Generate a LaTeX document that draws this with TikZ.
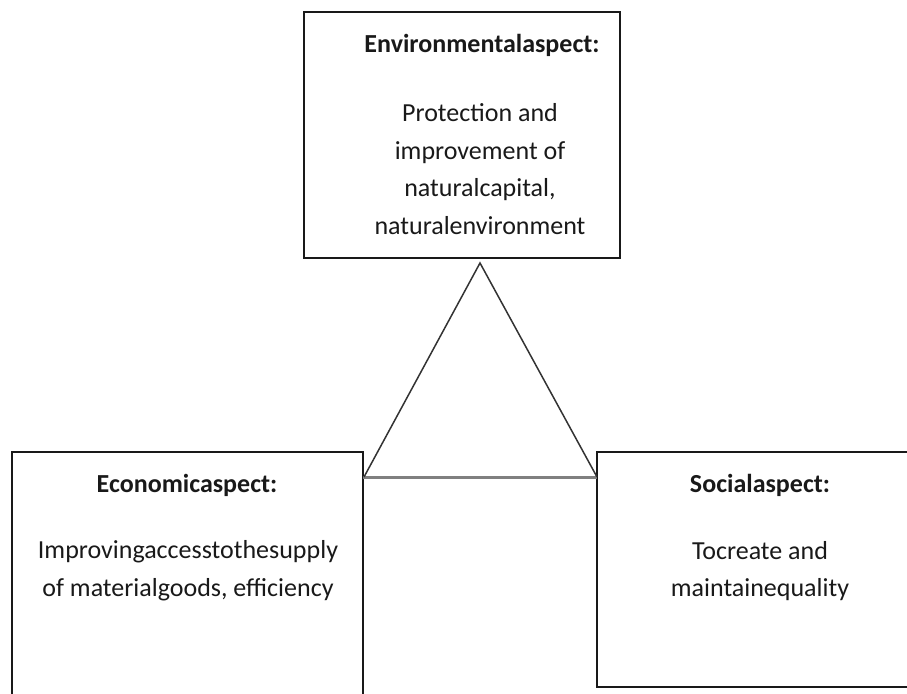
\documentclass[tikz,border=0pt]{standalone}
\usepackage{fontspec}
\setmainfont{Carlito}
\begin{document}
\begin{tikzpicture}[x=1pt,y=-1pt,
 boxx/.style={draw=black!90,line width=1.6pt,inner sep=0pt,outer sep=0pt},
 headtxt/.style={font=\fontsize{26}{37.7}\selectfont\bfseries,inner sep=0pt,text=black!90},
 bodytxt/.style={font=\fontsize{26}{37.7}\selectfont,align=center,inner sep=0pt,text=black!90},
 triside/.style={draw=black!80,line width=1.5pt},
 baseln/.style={draw=black!50,line width=3pt}]
\useasboundingbox (0,0) rectangle (907,693);
\clip (0,0) rectangle (907,693);
% boxes
\node[boxx,minimum width=316pt,minimum height=246pt] (env) at (462,135) {};
\node[boxx,minimum width=351pt,minimum height=258pt] (econ) at (187.5,581) {};
\node[boxx,minimum width=323pt,minimum height=235pt] (soc) at (758.5,569.5) {};
% texts
\node[headtxt] (envh) at (482,45) {Environmentalaspect:};
\node[bodytxt] (envb) at (480,169) {Protection and\\improvement of\\naturalcapital,\\naturalenvironment};
\node[headtxt] (econh) at (187,485) {Economicaspect:};
\node[bodytxt] (econb) at (188,571) {Improvingaccesstothesupply\\of materialgoods, efficiency};
\node[headtxt] (soch) at (760,485) {Socialaspect:};
\node[bodytxt] (socb) at (760,571) {Tocreate and\\maintainequality};
% triangle
\coordinate (apex) at (480,263);
\coordinate (bl) at (364,477);
\coordinate (br) at (597,477);
\draw[baseln] (econ.east |- bl) -- (soc.west |- br);
\draw[triside] (bl) -- (apex) -- (br);
\end{tikzpicture}
\end{document}
